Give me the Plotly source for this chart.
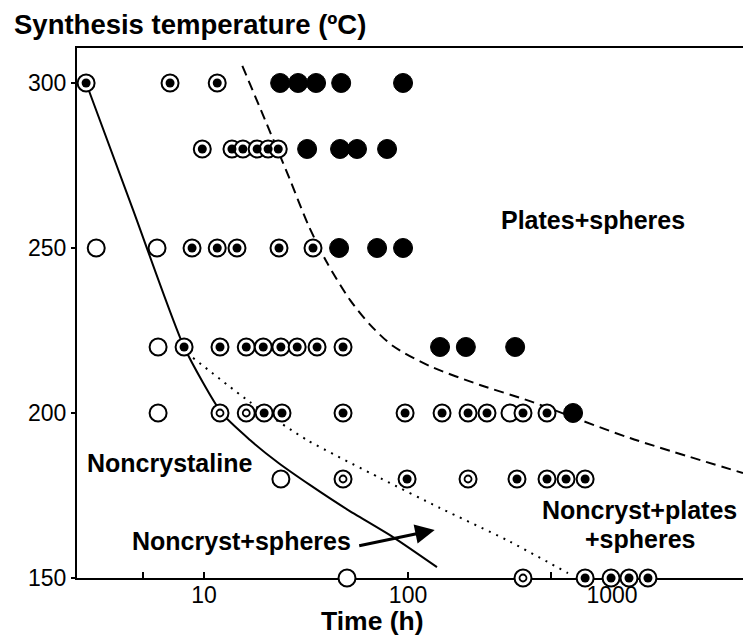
import plotly.graph_objects as go

# ---------------- data (time in h, temperature in C) ----------------
open_t = [2.96, 5.88, 5.95, 5.95, 23.8, 50.2, 316]
open_T = [250, 250, 220, 200, 180, 150, 200]

ring_t = [11.97, 16.1, 48, 196.8, 366]
ring_T = [200, 200, 180, 180, 150]

dot_t = [2.64, 6.81, 11.6,
         9.8, 13.7, 15.5, 18.2, 20.6, 23.1,
         8.73, 11.6, 14.5, 23.3, 34.2,
         7.98, 11.97, 16.1, 19.5, 23.8, 28.6, 35.8, 48,
         19.7, 24.1, 48, 96.7, 146.8, 196.8, 243.8, 366, 480,
         98.9, 342, 480, 595, 738,
         738, 989, 1211, 1500]
dot_T = [300, 300, 300,
         280, 280, 280, 280, 280, 280,
         250, 250, 250, 250, 250,
         220, 220, 220, 220, 220, 220, 220, 220,
         200, 200, 200, 200, 200, 200, 200, 200, 200,
         180, 180, 180, 180, 180,
         150, 150, 150, 150]

filled_t = [23.6, 28.9, 35.4, 47, 94.5,
            32, 46.4, 56.2, 78.9,
            45.9, 70.5, 94.5,
            143.5, 192, 335,
            644]
filled_T = [300, 300, 300, 300, 300,
            280, 280, 280, 280,
            250, 250, 250,
            220, 220, 220,
            200]

solid_t = [2.64, 4.49, 7.98, 12.2, 16.8, 23.0, 33.0, 50.2, 84.4, 138.6]
solid_T = [300, 261.5, 220, 200, 191.8, 185.0, 178.2, 170.8, 162.4, 153.3]

dotted_t = [8.83, 16.8, 32, 72.9, 143.5, 305, 608]
dotted_T = [216.7, 203.3, 191.8, 180.3, 171.2, 161.5, 151.5]

dashed_t = [15.4, 19.9, 26.4, 32.4, 40.1, 52, 65.2, 84.4, 128, 225, 396, 697, 1225, 4385]
dashed_T = [305.2, 288.8, 270.6, 257, 245.5, 234.2, 226.7, 220.3, 214.2, 208.5, 203.6, 197.9, 192.4, 181.8]

x_tickvals = [5, 10, 50, 100, 500, 1000]
x_ticktext = ["", "10", "", "100", "", "1000"]
y_tickvals = [150, 200, 250, 300]

# ---------------- figure ----------------
BOLD = "Liberation Sans, Arial, sans-serif"
TICKF = "Liberation Sans Narrow, Liberation Sans, Arial, sans-serif"

fig = go.Figure()

fig.add_trace(go.Scatter(x=solid_t, y=solid_T, mode="lines",
                         line=dict(color="black", width=2, shape="spline", smoothing=0.6),
                         hoverinfo="skip", cliponaxis=False))
fig.add_trace(go.Scatter(x=dotted_t, y=dotted_T, mode="lines",
                         line=dict(color="black", width=2, dash="2px,6px", shape="spline", smoothing=0.6),
                         hoverinfo="skip"))
fig.add_trace(go.Scatter(x=dashed_t, y=dashed_T, mode="lines",
                         line=dict(color="black", width=2, dash="10px,6px", shape="spline", smoothing=0.8),
                         hoverinfo="skip"))

ring_style = dict(symbol="circle", size=17, color="white", line=dict(color="black", width=2))

fig.add_trace(go.Scatter(x=open_t, y=open_T, mode="markers", marker=ring_style, cliponaxis=False))
fig.add_trace(go.Scatter(x=ring_t, y=ring_T, mode="markers", marker=ring_style, cliponaxis=False))
fig.add_trace(go.Scatter(x=ring_t, y=ring_T, mode="markers", cliponaxis=False,
                         marker=dict(symbol="circle", size=7, color="white",
                                     line=dict(color="black", width=1.8))))
fig.add_trace(go.Scatter(x=dot_t, y=dot_T, mode="markers", marker=ring_style, cliponaxis=False))
fig.add_trace(go.Scatter(x=dot_t, y=dot_T, mode="markers", cliponaxis=False,
                         marker=dict(symbol="circle", size=9, color="black", line=dict(width=0))))
fig.add_trace(go.Scatter(x=filled_t, y=filled_T, mode="markers", cliponaxis=False,
                         marker=dict(symbol="circle", size=19, color="black",
                                     line=dict(color="black", width=1))))

fig.update_layout(
    width=743, height=639,
    margin=dict(l=77, r=0, t=48, b=61),
    paper_bgcolor="white", plot_bgcolor="white",
    showlegend=False,
    font=dict(family=TICKF, color="black"),
    xaxis=dict(type="log", range=[0.377, 3.642],
               tickvals=x_tickvals, ticktext=x_ticktext,
               ticks="inside", ticklen=6, tickwidth=1.5, tickcolor="black",
               ticklabelstandoff=-5,
               tickfont=dict(family=TICKF, size=23, color="black"),
               showgrid=False, zeroline=False, layer="below traces",
               showline=True, linecolor="black", linewidth=2, mirror=True),
    yaxis=dict(range=[150, 310.6], tickvals=y_tickvals,
               ticks="outside", ticklen=4, tickwidth=1.5, tickcolor="black",
               tickfont=dict(family=TICKF, size=23, color="black"),
               showgrid=False, zeroline=False, layer="below traces",
               showline=True, linecolor="black", linewidth=2),
)

def label(text, x, y, size=25, xanchor="left", yanchor="middle"):
    fig.add_annotation(text=f"<b>{text}</b>", xref="paper", yref="paper",
                       x=x, y=y, xanchor=xanchor, yanchor=yanchor,
                       showarrow=False, font=dict(family=BOLD, size=size, color="black"))

label("Synthesis temperature (ºC)", -0.0976, 1.0434, size=27.5)
label("Time (h)", 0.4444, -0.113, size=26.5, xanchor="center", yanchor="bottom")
label("Plates+spheres", 0.7748, 0.6755, xanchor="center")
label("Noncrystaline", 0.012, 0.217)
label("Noncryst+spheres", 0.0796, 0.0698)
label("Noncryst+plates", 0.8453, 0.1283, xanchor="center")
label("+spheres", 0.8468, 0.0736, xanchor="center")

fig.add_annotation(text="", xref="paper", yref="paper", x=0.5371, y=0.0906,
                   ax=-77, ay=16, showarrow=True, arrowhead=2, arrowsize=1.3,
                   arrowwidth=3, arrowcolor="black")

fig.write_html("out.html")
